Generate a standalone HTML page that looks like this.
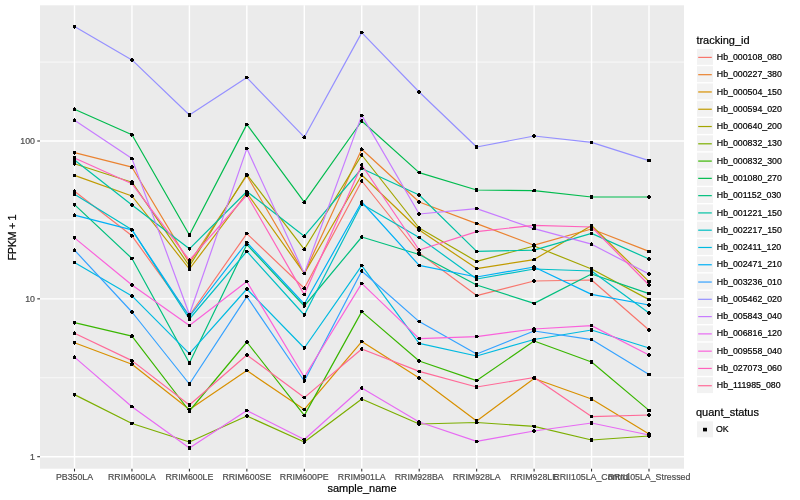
<!DOCTYPE html><html><head><meta charset="utf-8"><style>html,body{margin:0;padding:0;background:#fff;}svg{display:block;will-change:transform;}text{font-family:"Liberation Sans",sans-serif;}.ax{fill:#4D4D4D;stroke:#4D4D4D;stroke-width:0.2px;}.bk{fill:#000;stroke:#000;stroke-width:0.2px;}</style></head><body>
<svg width="800" height="500" viewBox="0 0 800 500">
<rect x="0" y="0" width="800" height="500" fill="#FFFFFF"/>
<rect x="40" y="5.3" width="644" height="463.4" fill="#EBEBEB"/>
<line x1="40" x2="684" y1="377.77" y2="377.77" stroke="#FFFFFF" stroke-width="0.71"/>
<line x1="40" x2="684" y1="219.93" y2="219.93" stroke="#FFFFFF" stroke-width="0.71"/>
<line x1="40" x2="684" y1="62.07" y2="62.07" stroke="#FFFFFF" stroke-width="0.71"/>
<line x1="40" x2="684" y1="456.70" y2="456.70" stroke="#FFFFFF" stroke-width="1.42"/>
<line x1="40" x2="684" y1="298.85" y2="298.85" stroke="#FFFFFF" stroke-width="1.42"/>
<line x1="40" x2="684" y1="141.00" y2="141.00" stroke="#FFFFFF" stroke-width="1.42"/>
<line x1="74.50" x2="74.50" y1="5.3" y2="468.7" stroke="#FFFFFF" stroke-width="1.42"/>
<line x1="131.95" x2="131.95" y1="5.3" y2="468.7" stroke="#FFFFFF" stroke-width="1.42"/>
<line x1="189.40" x2="189.40" y1="5.3" y2="468.7" stroke="#FFFFFF" stroke-width="1.42"/>
<line x1="246.85" x2="246.85" y1="5.3" y2="468.7" stroke="#FFFFFF" stroke-width="1.42"/>
<line x1="304.30" x2="304.30" y1="5.3" y2="468.7" stroke="#FFFFFF" stroke-width="1.42"/>
<line x1="361.75" x2="361.75" y1="5.3" y2="468.7" stroke="#FFFFFF" stroke-width="1.42"/>
<line x1="419.20" x2="419.20" y1="5.3" y2="468.7" stroke="#FFFFFF" stroke-width="1.42"/>
<line x1="476.65" x2="476.65" y1="5.3" y2="468.7" stroke="#FFFFFF" stroke-width="1.42"/>
<line x1="534.10" x2="534.10" y1="5.3" y2="468.7" stroke="#FFFFFF" stroke-width="1.42"/>
<line x1="591.55" x2="591.55" y1="5.3" y2="468.7" stroke="#FFFFFF" stroke-width="1.42"/>
<line x1="649.00" x2="649.00" y1="5.3" y2="468.7" stroke="#FFFFFF" stroke-width="1.42"/>
<polyline points="74.50,191.30 131.95,235.80 189.40,315.50 246.85,233.60 304.30,288.20 361.75,181.00 419.20,253.00 476.65,295.60 534.10,281.00 591.55,280.00 649.00,330.00" fill="none" stroke="#F8766D" stroke-width="1.2" stroke-linejoin="round" stroke-linecap="butt"/>
<polyline points="74.50,152.70 131.95,167.20 189.40,263.00 246.85,175.50 304.30,273.40 361.75,149.20 419.20,202.00 476.65,223.60 534.10,245.20 591.55,229.00 649.00,251.40" fill="none" stroke="#EA8331" stroke-width="1.2" stroke-linejoin="round" stroke-linecap="butt"/>
<polyline points="74.50,342.70 131.95,364.20 189.40,409.50 246.85,370.60 304.30,409.40 361.75,341.60 419.20,378.00 476.65,421.00 534.10,378.50 591.55,399.00 649.00,434.00" fill="none" stroke="#D89000" stroke-width="1.2" stroke-linejoin="round" stroke-linecap="butt"/>
<polyline points="74.50,175.40 131.95,196.00 189.40,269.00 246.85,193.00 304.30,273.40 361.75,175.00 419.20,230.00 476.65,268.60 534.10,259.60 591.55,225.50 649.00,281.60" fill="none" stroke="#C09B00" stroke-width="1.2" stroke-linejoin="round" stroke-linecap="butt"/>
<polyline points="74.50,163.80 131.95,182.20 189.40,266.00 246.85,174.50 304.30,249.30 361.75,155.00 419.20,228.00 476.65,261.40 534.10,246.00 591.55,269.00 649.00,299.60" fill="none" stroke="#A3A500" stroke-width="1.2" stroke-linejoin="round" stroke-linecap="butt"/>
<polyline points="74.50,394.60 131.95,423.50 189.40,442.00 246.85,416.00 304.30,442.00 361.75,399.00 419.20,424.00 476.65,422.50 534.10,426.40 591.55,440.00 649.00,436.00" fill="none" stroke="#7CAE00" stroke-width="1.2" stroke-linejoin="round" stroke-linecap="butt"/>
<polyline points="74.50,322.70 131.95,336.20 189.40,411.00 246.85,342.00 304.30,415.40 361.75,311.60 419.20,361.00 476.65,380.60 534.10,341.00 591.55,362.00 649.00,410.40" fill="none" stroke="#39B600" stroke-width="1.2" stroke-linejoin="round" stroke-linecap="butt"/>
<polyline points="74.50,109.30 131.95,134.80 189.40,235.00 246.85,124.40 304.30,202.20 361.75,121.00 419.20,172.60 476.65,190.00 534.10,190.60 591.55,197.00 649.00,197.00" fill="none" stroke="#00BB4E" stroke-width="1.2" stroke-linejoin="round" stroke-linecap="butt"/>
<polyline points="74.50,204.60 131.95,258.50 189.40,363.00 246.85,244.50 304.30,306.00 361.75,237.00 419.20,254.50 476.65,285.00 534.10,303.40 591.55,274.00 649.00,293.60" fill="none" stroke="#00BF7D" stroke-width="1.2" stroke-linejoin="round" stroke-linecap="butt"/>
<polyline points="74.50,160.00 131.95,205.00 189.40,248.80 246.85,191.50 304.30,236.20 361.75,168.50 419.20,195.00 476.65,251.40 534.10,250.20 591.55,233.40 649.00,259.00" fill="none" stroke="#00C1A3" stroke-width="1.2" stroke-linejoin="round" stroke-linecap="butt"/>
<polyline points="74.50,194.20 131.95,229.80 189.40,319.00 246.85,251.40 304.30,315.00 361.75,204.00 419.20,237.50 476.65,279.00 534.10,269.00 591.55,271.00 649.00,313.00" fill="none" stroke="#00BFC4" stroke-width="1.2" stroke-linejoin="round" stroke-linecap="butt"/>
<polyline points="74.50,262.50 131.95,295.90 189.40,353.60 246.85,289.00 304.30,348.00 361.75,265.60 419.20,343.40 476.65,356.00 534.10,339.50 591.55,330.00 649.00,348.00" fill="none" stroke="#00BAE0" stroke-width="1.2" stroke-linejoin="round" stroke-linecap="butt"/>
<polyline points="74.50,215.10 131.95,229.80 189.40,316.50 246.85,242.50 304.30,304.00 361.75,202.00 419.20,265.40 476.65,277.00 534.10,267.00 591.55,294.40 649.00,305.00" fill="none" stroke="#00B0F6" stroke-width="1.2" stroke-linejoin="round" stroke-linecap="butt"/>
<polyline points="74.50,250.10 131.95,312.00 189.40,384.00 246.85,296.60 304.30,381.00 361.75,271.00 419.20,321.60 476.65,354.00 534.10,331.00 591.55,339.60 649.00,374.60" fill="none" stroke="#35A2FF" stroke-width="1.2" stroke-linejoin="round" stroke-linecap="butt"/>
<polyline points="74.50,26.60 131.95,59.90 189.40,115.00 246.85,77.60 304.30,137.20 361.75,32.60 419.20,92.00 476.65,147.00 534.10,136.00 591.55,142.40 649.00,160.60" fill="none" stroke="#9590FF" stroke-width="1.2" stroke-linejoin="round" stroke-linecap="butt"/>
<polyline points="74.50,120.20 131.95,158.60 189.40,314.50 246.85,148.60 304.30,273.40 361.75,115.40 419.20,214.00 476.65,208.60 534.10,228.60 591.55,244.20 649.00,274.00" fill="none" stroke="#C77CFF" stroke-width="1.2" stroke-linejoin="round" stroke-linecap="butt"/>
<polyline points="74.50,357.10 131.95,406.70 189.40,448.00 246.85,410.60 304.30,439.50 361.75,388.00 419.20,422.00 476.65,441.40 534.10,431.00 591.55,423.00 649.00,435.00" fill="none" stroke="#E76BF3" stroke-width="1.2" stroke-linejoin="round" stroke-linecap="butt"/>
<polyline points="74.50,237.90 131.95,285.00 189.40,325.60 246.85,281.60 304.30,377.00 361.75,283.40 419.20,338.60 476.65,336.60 534.10,329.00 591.55,325.60 649.00,355.00" fill="none" stroke="#FA62DB" stroke-width="1.2" stroke-linejoin="round" stroke-linecap="butt"/>
<polyline points="74.50,158.00 131.95,183.70 189.40,260.20 246.85,195.00 304.30,294.60 361.75,165.00 419.20,250.00 476.65,231.60 534.10,225.40 591.55,227.00 649.00,285.00" fill="none" stroke="#FF62BC" stroke-width="1.2" stroke-linejoin="round" stroke-linecap="butt"/>
<polyline points="74.50,333.20 131.95,360.60 189.40,405.00 246.85,355.00 304.30,397.60 361.75,349.00 419.20,371.40 476.65,387.00 534.10,377.50 591.55,416.60 649.00,415.00" fill="none" stroke="#FF6A98" stroke-width="1.2" stroke-linejoin="round" stroke-linecap="butt"/>
<circle cx="74.50" cy="191.30" r="1.9" fill="#000" shape-rendering="crispEdges"/>
<circle cx="131.95" cy="235.80" r="1.9" fill="#000" shape-rendering="crispEdges"/>
<circle cx="189.40" cy="315.50" r="1.9" fill="#000" shape-rendering="crispEdges"/>
<circle cx="246.85" cy="233.60" r="1.9" fill="#000" shape-rendering="crispEdges"/>
<circle cx="304.30" cy="288.20" r="1.9" fill="#000" shape-rendering="crispEdges"/>
<circle cx="361.75" cy="181.00" r="1.9" fill="#000" shape-rendering="crispEdges"/>
<circle cx="419.20" cy="253.00" r="1.9" fill="#000" shape-rendering="crispEdges"/>
<circle cx="476.65" cy="295.60" r="1.9" fill="#000" shape-rendering="crispEdges"/>
<circle cx="534.10" cy="281.00" r="1.9" fill="#000" shape-rendering="crispEdges"/>
<circle cx="591.55" cy="280.00" r="1.9" fill="#000" shape-rendering="crispEdges"/>
<circle cx="649.00" cy="330.00" r="1.9" fill="#000" shape-rendering="crispEdges"/>
<circle cx="74.50" cy="152.70" r="1.9" fill="#000" shape-rendering="crispEdges"/>
<circle cx="131.95" cy="167.20" r="1.9" fill="#000" shape-rendering="crispEdges"/>
<circle cx="189.40" cy="263.00" r="1.9" fill="#000" shape-rendering="crispEdges"/>
<circle cx="246.85" cy="175.50" r="1.9" fill="#000" shape-rendering="crispEdges"/>
<circle cx="304.30" cy="273.40" r="1.9" fill="#000" shape-rendering="crispEdges"/>
<circle cx="361.75" cy="149.20" r="1.9" fill="#000" shape-rendering="crispEdges"/>
<circle cx="419.20" cy="202.00" r="1.9" fill="#000" shape-rendering="crispEdges"/>
<circle cx="476.65" cy="223.60" r="1.9" fill="#000" shape-rendering="crispEdges"/>
<circle cx="534.10" cy="245.20" r="1.9" fill="#000" shape-rendering="crispEdges"/>
<circle cx="591.55" cy="229.00" r="1.9" fill="#000" shape-rendering="crispEdges"/>
<circle cx="649.00" cy="251.40" r="1.9" fill="#000" shape-rendering="crispEdges"/>
<circle cx="74.50" cy="342.70" r="1.9" fill="#000" shape-rendering="crispEdges"/>
<circle cx="131.95" cy="364.20" r="1.9" fill="#000" shape-rendering="crispEdges"/>
<circle cx="189.40" cy="409.50" r="1.9" fill="#000" shape-rendering="crispEdges"/>
<circle cx="246.85" cy="370.60" r="1.9" fill="#000" shape-rendering="crispEdges"/>
<circle cx="304.30" cy="409.40" r="1.9" fill="#000" shape-rendering="crispEdges"/>
<circle cx="361.75" cy="341.60" r="1.9" fill="#000" shape-rendering="crispEdges"/>
<circle cx="419.20" cy="378.00" r="1.9" fill="#000" shape-rendering="crispEdges"/>
<circle cx="476.65" cy="421.00" r="1.9" fill="#000" shape-rendering="crispEdges"/>
<circle cx="534.10" cy="378.50" r="1.9" fill="#000" shape-rendering="crispEdges"/>
<circle cx="591.55" cy="399.00" r="1.9" fill="#000" shape-rendering="crispEdges"/>
<circle cx="649.00" cy="434.00" r="1.9" fill="#000" shape-rendering="crispEdges"/>
<circle cx="74.50" cy="175.40" r="1.9" fill="#000" shape-rendering="crispEdges"/>
<circle cx="131.95" cy="196.00" r="1.9" fill="#000" shape-rendering="crispEdges"/>
<circle cx="189.40" cy="269.00" r="1.9" fill="#000" shape-rendering="crispEdges"/>
<circle cx="246.85" cy="193.00" r="1.9" fill="#000" shape-rendering="crispEdges"/>
<circle cx="304.30" cy="273.40" r="1.9" fill="#000" shape-rendering="crispEdges"/>
<circle cx="361.75" cy="175.00" r="1.9" fill="#000" shape-rendering="crispEdges"/>
<circle cx="419.20" cy="230.00" r="1.9" fill="#000" shape-rendering="crispEdges"/>
<circle cx="476.65" cy="268.60" r="1.9" fill="#000" shape-rendering="crispEdges"/>
<circle cx="534.10" cy="259.60" r="1.9" fill="#000" shape-rendering="crispEdges"/>
<circle cx="591.55" cy="225.50" r="1.9" fill="#000" shape-rendering="crispEdges"/>
<circle cx="649.00" cy="281.60" r="1.9" fill="#000" shape-rendering="crispEdges"/>
<circle cx="74.50" cy="163.80" r="1.9" fill="#000" shape-rendering="crispEdges"/>
<circle cx="131.95" cy="182.20" r="1.9" fill="#000" shape-rendering="crispEdges"/>
<circle cx="189.40" cy="266.00" r="1.9" fill="#000" shape-rendering="crispEdges"/>
<circle cx="246.85" cy="174.50" r="1.9" fill="#000" shape-rendering="crispEdges"/>
<circle cx="304.30" cy="249.30" r="1.9" fill="#000" shape-rendering="crispEdges"/>
<circle cx="361.75" cy="155.00" r="1.9" fill="#000" shape-rendering="crispEdges"/>
<circle cx="419.20" cy="228.00" r="1.9" fill="#000" shape-rendering="crispEdges"/>
<circle cx="476.65" cy="261.40" r="1.9" fill="#000" shape-rendering="crispEdges"/>
<circle cx="534.10" cy="246.00" r="1.9" fill="#000" shape-rendering="crispEdges"/>
<circle cx="591.55" cy="269.00" r="1.9" fill="#000" shape-rendering="crispEdges"/>
<circle cx="649.00" cy="299.60" r="1.9" fill="#000" shape-rendering="crispEdges"/>
<circle cx="74.50" cy="394.60" r="1.9" fill="#000" shape-rendering="crispEdges"/>
<circle cx="131.95" cy="423.50" r="1.9" fill="#000" shape-rendering="crispEdges"/>
<circle cx="189.40" cy="442.00" r="1.9" fill="#000" shape-rendering="crispEdges"/>
<circle cx="246.85" cy="416.00" r="1.9" fill="#000" shape-rendering="crispEdges"/>
<circle cx="304.30" cy="442.00" r="1.9" fill="#000" shape-rendering="crispEdges"/>
<circle cx="361.75" cy="399.00" r="1.9" fill="#000" shape-rendering="crispEdges"/>
<circle cx="419.20" cy="424.00" r="1.9" fill="#000" shape-rendering="crispEdges"/>
<circle cx="476.65" cy="422.50" r="1.9" fill="#000" shape-rendering="crispEdges"/>
<circle cx="534.10" cy="426.40" r="1.9" fill="#000" shape-rendering="crispEdges"/>
<circle cx="591.55" cy="440.00" r="1.9" fill="#000" shape-rendering="crispEdges"/>
<circle cx="649.00" cy="436.00" r="1.9" fill="#000" shape-rendering="crispEdges"/>
<circle cx="74.50" cy="322.70" r="1.9" fill="#000" shape-rendering="crispEdges"/>
<circle cx="131.95" cy="336.20" r="1.9" fill="#000" shape-rendering="crispEdges"/>
<circle cx="189.40" cy="411.00" r="1.9" fill="#000" shape-rendering="crispEdges"/>
<circle cx="246.85" cy="342.00" r="1.9" fill="#000" shape-rendering="crispEdges"/>
<circle cx="304.30" cy="415.40" r="1.9" fill="#000" shape-rendering="crispEdges"/>
<circle cx="361.75" cy="311.60" r="1.9" fill="#000" shape-rendering="crispEdges"/>
<circle cx="419.20" cy="361.00" r="1.9" fill="#000" shape-rendering="crispEdges"/>
<circle cx="476.65" cy="380.60" r="1.9" fill="#000" shape-rendering="crispEdges"/>
<circle cx="534.10" cy="341.00" r="1.9" fill="#000" shape-rendering="crispEdges"/>
<circle cx="591.55" cy="362.00" r="1.9" fill="#000" shape-rendering="crispEdges"/>
<circle cx="649.00" cy="410.40" r="1.9" fill="#000" shape-rendering="crispEdges"/>
<circle cx="74.50" cy="109.30" r="1.9" fill="#000" shape-rendering="crispEdges"/>
<circle cx="131.95" cy="134.80" r="1.9" fill="#000" shape-rendering="crispEdges"/>
<circle cx="189.40" cy="235.00" r="1.9" fill="#000" shape-rendering="crispEdges"/>
<circle cx="246.85" cy="124.40" r="1.9" fill="#000" shape-rendering="crispEdges"/>
<circle cx="304.30" cy="202.20" r="1.9" fill="#000" shape-rendering="crispEdges"/>
<circle cx="361.75" cy="121.00" r="1.9" fill="#000" shape-rendering="crispEdges"/>
<circle cx="419.20" cy="172.60" r="1.9" fill="#000" shape-rendering="crispEdges"/>
<circle cx="476.65" cy="190.00" r="1.9" fill="#000" shape-rendering="crispEdges"/>
<circle cx="534.10" cy="190.60" r="1.9" fill="#000" shape-rendering="crispEdges"/>
<circle cx="591.55" cy="197.00" r="1.9" fill="#000" shape-rendering="crispEdges"/>
<circle cx="649.00" cy="197.00" r="1.9" fill="#000" shape-rendering="crispEdges"/>
<circle cx="74.50" cy="204.60" r="1.9" fill="#000" shape-rendering="crispEdges"/>
<circle cx="131.95" cy="258.50" r="1.9" fill="#000" shape-rendering="crispEdges"/>
<circle cx="189.40" cy="363.00" r="1.9" fill="#000" shape-rendering="crispEdges"/>
<circle cx="246.85" cy="244.50" r="1.9" fill="#000" shape-rendering="crispEdges"/>
<circle cx="304.30" cy="306.00" r="1.9" fill="#000" shape-rendering="crispEdges"/>
<circle cx="361.75" cy="237.00" r="1.9" fill="#000" shape-rendering="crispEdges"/>
<circle cx="419.20" cy="254.50" r="1.9" fill="#000" shape-rendering="crispEdges"/>
<circle cx="476.65" cy="285.00" r="1.9" fill="#000" shape-rendering="crispEdges"/>
<circle cx="534.10" cy="303.40" r="1.9" fill="#000" shape-rendering="crispEdges"/>
<circle cx="591.55" cy="274.00" r="1.9" fill="#000" shape-rendering="crispEdges"/>
<circle cx="649.00" cy="293.60" r="1.9" fill="#000" shape-rendering="crispEdges"/>
<circle cx="74.50" cy="160.00" r="1.9" fill="#000" shape-rendering="crispEdges"/>
<circle cx="131.95" cy="205.00" r="1.9" fill="#000" shape-rendering="crispEdges"/>
<circle cx="189.40" cy="248.80" r="1.9" fill="#000" shape-rendering="crispEdges"/>
<circle cx="246.85" cy="191.50" r="1.9" fill="#000" shape-rendering="crispEdges"/>
<circle cx="304.30" cy="236.20" r="1.9" fill="#000" shape-rendering="crispEdges"/>
<circle cx="361.75" cy="168.50" r="1.9" fill="#000" shape-rendering="crispEdges"/>
<circle cx="419.20" cy="195.00" r="1.9" fill="#000" shape-rendering="crispEdges"/>
<circle cx="476.65" cy="251.40" r="1.9" fill="#000" shape-rendering="crispEdges"/>
<circle cx="534.10" cy="250.20" r="1.9" fill="#000" shape-rendering="crispEdges"/>
<circle cx="591.55" cy="233.40" r="1.9" fill="#000" shape-rendering="crispEdges"/>
<circle cx="649.00" cy="259.00" r="1.9" fill="#000" shape-rendering="crispEdges"/>
<circle cx="74.50" cy="194.20" r="1.9" fill="#000" shape-rendering="crispEdges"/>
<circle cx="131.95" cy="229.80" r="1.9" fill="#000" shape-rendering="crispEdges"/>
<circle cx="189.40" cy="319.00" r="1.9" fill="#000" shape-rendering="crispEdges"/>
<circle cx="246.85" cy="251.40" r="1.9" fill="#000" shape-rendering="crispEdges"/>
<circle cx="304.30" cy="315.00" r="1.9" fill="#000" shape-rendering="crispEdges"/>
<circle cx="361.75" cy="204.00" r="1.9" fill="#000" shape-rendering="crispEdges"/>
<circle cx="419.20" cy="237.50" r="1.9" fill="#000" shape-rendering="crispEdges"/>
<circle cx="476.65" cy="279.00" r="1.9" fill="#000" shape-rendering="crispEdges"/>
<circle cx="534.10" cy="269.00" r="1.9" fill="#000" shape-rendering="crispEdges"/>
<circle cx="591.55" cy="271.00" r="1.9" fill="#000" shape-rendering="crispEdges"/>
<circle cx="649.00" cy="313.00" r="1.9" fill="#000" shape-rendering="crispEdges"/>
<circle cx="74.50" cy="262.50" r="1.9" fill="#000" shape-rendering="crispEdges"/>
<circle cx="131.95" cy="295.90" r="1.9" fill="#000" shape-rendering="crispEdges"/>
<circle cx="189.40" cy="353.60" r="1.9" fill="#000" shape-rendering="crispEdges"/>
<circle cx="246.85" cy="289.00" r="1.9" fill="#000" shape-rendering="crispEdges"/>
<circle cx="304.30" cy="348.00" r="1.9" fill="#000" shape-rendering="crispEdges"/>
<circle cx="361.75" cy="265.60" r="1.9" fill="#000" shape-rendering="crispEdges"/>
<circle cx="419.20" cy="343.40" r="1.9" fill="#000" shape-rendering="crispEdges"/>
<circle cx="476.65" cy="356.00" r="1.9" fill="#000" shape-rendering="crispEdges"/>
<circle cx="534.10" cy="339.50" r="1.9" fill="#000" shape-rendering="crispEdges"/>
<circle cx="591.55" cy="330.00" r="1.9" fill="#000" shape-rendering="crispEdges"/>
<circle cx="649.00" cy="348.00" r="1.9" fill="#000" shape-rendering="crispEdges"/>
<circle cx="74.50" cy="215.10" r="1.9" fill="#000" shape-rendering="crispEdges"/>
<circle cx="131.95" cy="229.80" r="1.9" fill="#000" shape-rendering="crispEdges"/>
<circle cx="189.40" cy="316.50" r="1.9" fill="#000" shape-rendering="crispEdges"/>
<circle cx="246.85" cy="242.50" r="1.9" fill="#000" shape-rendering="crispEdges"/>
<circle cx="304.30" cy="304.00" r="1.9" fill="#000" shape-rendering="crispEdges"/>
<circle cx="361.75" cy="202.00" r="1.9" fill="#000" shape-rendering="crispEdges"/>
<circle cx="419.20" cy="265.40" r="1.9" fill="#000" shape-rendering="crispEdges"/>
<circle cx="476.65" cy="277.00" r="1.9" fill="#000" shape-rendering="crispEdges"/>
<circle cx="534.10" cy="267.00" r="1.9" fill="#000" shape-rendering="crispEdges"/>
<circle cx="591.55" cy="294.40" r="1.9" fill="#000" shape-rendering="crispEdges"/>
<circle cx="649.00" cy="305.00" r="1.9" fill="#000" shape-rendering="crispEdges"/>
<circle cx="74.50" cy="250.10" r="1.9" fill="#000" shape-rendering="crispEdges"/>
<circle cx="131.95" cy="312.00" r="1.9" fill="#000" shape-rendering="crispEdges"/>
<circle cx="189.40" cy="384.00" r="1.9" fill="#000" shape-rendering="crispEdges"/>
<circle cx="246.85" cy="296.60" r="1.9" fill="#000" shape-rendering="crispEdges"/>
<circle cx="304.30" cy="381.00" r="1.9" fill="#000" shape-rendering="crispEdges"/>
<circle cx="361.75" cy="271.00" r="1.9" fill="#000" shape-rendering="crispEdges"/>
<circle cx="419.20" cy="321.60" r="1.9" fill="#000" shape-rendering="crispEdges"/>
<circle cx="476.65" cy="354.00" r="1.9" fill="#000" shape-rendering="crispEdges"/>
<circle cx="534.10" cy="331.00" r="1.9" fill="#000" shape-rendering="crispEdges"/>
<circle cx="591.55" cy="339.60" r="1.9" fill="#000" shape-rendering="crispEdges"/>
<circle cx="649.00" cy="374.60" r="1.9" fill="#000" shape-rendering="crispEdges"/>
<circle cx="74.50" cy="26.60" r="1.9" fill="#000" shape-rendering="crispEdges"/>
<circle cx="131.95" cy="59.90" r="1.9" fill="#000" shape-rendering="crispEdges"/>
<circle cx="189.40" cy="115.00" r="1.9" fill="#000" shape-rendering="crispEdges"/>
<circle cx="246.85" cy="77.60" r="1.9" fill="#000" shape-rendering="crispEdges"/>
<circle cx="304.30" cy="137.20" r="1.9" fill="#000" shape-rendering="crispEdges"/>
<circle cx="361.75" cy="32.60" r="1.9" fill="#000" shape-rendering="crispEdges"/>
<circle cx="419.20" cy="92.00" r="1.9" fill="#000" shape-rendering="crispEdges"/>
<circle cx="476.65" cy="147.00" r="1.9" fill="#000" shape-rendering="crispEdges"/>
<circle cx="534.10" cy="136.00" r="1.9" fill="#000" shape-rendering="crispEdges"/>
<circle cx="591.55" cy="142.40" r="1.9" fill="#000" shape-rendering="crispEdges"/>
<circle cx="649.00" cy="160.60" r="1.9" fill="#000" shape-rendering="crispEdges"/>
<circle cx="74.50" cy="120.20" r="1.9" fill="#000" shape-rendering="crispEdges"/>
<circle cx="131.95" cy="158.60" r="1.9" fill="#000" shape-rendering="crispEdges"/>
<circle cx="189.40" cy="314.50" r="1.9" fill="#000" shape-rendering="crispEdges"/>
<circle cx="246.85" cy="148.60" r="1.9" fill="#000" shape-rendering="crispEdges"/>
<circle cx="304.30" cy="273.40" r="1.9" fill="#000" shape-rendering="crispEdges"/>
<circle cx="361.75" cy="115.40" r="1.9" fill="#000" shape-rendering="crispEdges"/>
<circle cx="419.20" cy="214.00" r="1.9" fill="#000" shape-rendering="crispEdges"/>
<circle cx="476.65" cy="208.60" r="1.9" fill="#000" shape-rendering="crispEdges"/>
<circle cx="534.10" cy="228.60" r="1.9" fill="#000" shape-rendering="crispEdges"/>
<circle cx="591.55" cy="244.20" r="1.9" fill="#000" shape-rendering="crispEdges"/>
<circle cx="649.00" cy="274.00" r="1.9" fill="#000" shape-rendering="crispEdges"/>
<circle cx="74.50" cy="357.10" r="1.9" fill="#000" shape-rendering="crispEdges"/>
<circle cx="131.95" cy="406.70" r="1.9" fill="#000" shape-rendering="crispEdges"/>
<circle cx="189.40" cy="448.00" r="1.9" fill="#000" shape-rendering="crispEdges"/>
<circle cx="246.85" cy="410.60" r="1.9" fill="#000" shape-rendering="crispEdges"/>
<circle cx="304.30" cy="439.50" r="1.9" fill="#000" shape-rendering="crispEdges"/>
<circle cx="361.75" cy="388.00" r="1.9" fill="#000" shape-rendering="crispEdges"/>
<circle cx="419.20" cy="422.00" r="1.9" fill="#000" shape-rendering="crispEdges"/>
<circle cx="476.65" cy="441.40" r="1.9" fill="#000" shape-rendering="crispEdges"/>
<circle cx="534.10" cy="431.00" r="1.9" fill="#000" shape-rendering="crispEdges"/>
<circle cx="591.55" cy="423.00" r="1.9" fill="#000" shape-rendering="crispEdges"/>
<circle cx="649.00" cy="435.00" r="1.9" fill="#000" shape-rendering="crispEdges"/>
<circle cx="74.50" cy="237.90" r="1.9" fill="#000" shape-rendering="crispEdges"/>
<circle cx="131.95" cy="285.00" r="1.9" fill="#000" shape-rendering="crispEdges"/>
<circle cx="189.40" cy="325.60" r="1.9" fill="#000" shape-rendering="crispEdges"/>
<circle cx="246.85" cy="281.60" r="1.9" fill="#000" shape-rendering="crispEdges"/>
<circle cx="304.30" cy="377.00" r="1.9" fill="#000" shape-rendering="crispEdges"/>
<circle cx="361.75" cy="283.40" r="1.9" fill="#000" shape-rendering="crispEdges"/>
<circle cx="419.20" cy="338.60" r="1.9" fill="#000" shape-rendering="crispEdges"/>
<circle cx="476.65" cy="336.60" r="1.9" fill="#000" shape-rendering="crispEdges"/>
<circle cx="534.10" cy="329.00" r="1.9" fill="#000" shape-rendering="crispEdges"/>
<circle cx="591.55" cy="325.60" r="1.9" fill="#000" shape-rendering="crispEdges"/>
<circle cx="649.00" cy="355.00" r="1.9" fill="#000" shape-rendering="crispEdges"/>
<circle cx="74.50" cy="158.00" r="1.9" fill="#000" shape-rendering="crispEdges"/>
<circle cx="131.95" cy="183.70" r="1.9" fill="#000" shape-rendering="crispEdges"/>
<circle cx="189.40" cy="260.20" r="1.9" fill="#000" shape-rendering="crispEdges"/>
<circle cx="246.85" cy="195.00" r="1.9" fill="#000" shape-rendering="crispEdges"/>
<circle cx="304.30" cy="294.60" r="1.9" fill="#000" shape-rendering="crispEdges"/>
<circle cx="361.75" cy="165.00" r="1.9" fill="#000" shape-rendering="crispEdges"/>
<circle cx="419.20" cy="250.00" r="1.9" fill="#000" shape-rendering="crispEdges"/>
<circle cx="476.65" cy="231.60" r="1.9" fill="#000" shape-rendering="crispEdges"/>
<circle cx="534.10" cy="225.40" r="1.9" fill="#000" shape-rendering="crispEdges"/>
<circle cx="591.55" cy="227.00" r="1.9" fill="#000" shape-rendering="crispEdges"/>
<circle cx="649.00" cy="285.00" r="1.9" fill="#000" shape-rendering="crispEdges"/>
<circle cx="74.50" cy="333.20" r="1.9" fill="#000" shape-rendering="crispEdges"/>
<circle cx="131.95" cy="360.60" r="1.9" fill="#000" shape-rendering="crispEdges"/>
<circle cx="189.40" cy="405.00" r="1.9" fill="#000" shape-rendering="crispEdges"/>
<circle cx="246.85" cy="355.00" r="1.9" fill="#000" shape-rendering="crispEdges"/>
<circle cx="304.30" cy="397.60" r="1.9" fill="#000" shape-rendering="crispEdges"/>
<circle cx="361.75" cy="349.00" r="1.9" fill="#000" shape-rendering="crispEdges"/>
<circle cx="419.20" cy="371.40" r="1.9" fill="#000" shape-rendering="crispEdges"/>
<circle cx="476.65" cy="387.00" r="1.9" fill="#000" shape-rendering="crispEdges"/>
<circle cx="534.10" cy="377.50" r="1.9" fill="#000" shape-rendering="crispEdges"/>
<circle cx="591.55" cy="416.60" r="1.9" fill="#000" shape-rendering="crispEdges"/>
<circle cx="649.00" cy="415.00" r="1.9" fill="#000" shape-rendering="crispEdges"/>
<line x1="37.25" x2="40" y1="456.70" y2="456.70" stroke="#333333" stroke-width="1.07"/>
<text x="35" y="459.85" font-size="8.8" class="ax" text-anchor="end">1</text>
<line x1="37.25" x2="40" y1="298.85" y2="298.85" stroke="#333333" stroke-width="1.07"/>
<text x="35" y="302.00" font-size="8.8" class="ax" text-anchor="end">10</text>
<line x1="37.25" x2="40" y1="141.00" y2="141.00" stroke="#333333" stroke-width="1.07"/>
<text x="35" y="144.15" font-size="8.8" class="ax" text-anchor="end">100</text>
<line x1="74.50" x2="74.50" y1="468.7" y2="471.45" stroke="#333333" stroke-width="1.07"/>
<text x="74.50" y="480.3" font-size="8.8" class="ax" text-anchor="middle">PB350LA</text>
<line x1="131.95" x2="131.95" y1="468.7" y2="471.45" stroke="#333333" stroke-width="1.07"/>
<text x="131.95" y="480.3" font-size="8.8" class="ax" text-anchor="middle">RRIM600LA</text>
<line x1="189.40" x2="189.40" y1="468.7" y2="471.45" stroke="#333333" stroke-width="1.07"/>
<text x="189.40" y="480.3" font-size="8.8" class="ax" text-anchor="middle">RRIM600LE</text>
<line x1="246.85" x2="246.85" y1="468.7" y2="471.45" stroke="#333333" stroke-width="1.07"/>
<text x="246.85" y="480.3" font-size="8.8" class="ax" text-anchor="middle">RRIM600SE</text>
<line x1="304.30" x2="304.30" y1="468.7" y2="471.45" stroke="#333333" stroke-width="1.07"/>
<text x="304.30" y="480.3" font-size="8.8" class="ax" text-anchor="middle">RRIM600PE</text>
<line x1="361.75" x2="361.75" y1="468.7" y2="471.45" stroke="#333333" stroke-width="1.07"/>
<text x="361.75" y="480.3" font-size="8.8" class="ax" text-anchor="middle">RRIM901LA</text>
<line x1="419.20" x2="419.20" y1="468.7" y2="471.45" stroke="#333333" stroke-width="1.07"/>
<text x="419.20" y="480.3" font-size="8.8" class="ax" text-anchor="middle">RRIM928BA</text>
<line x1="476.65" x2="476.65" y1="468.7" y2="471.45" stroke="#333333" stroke-width="1.07"/>
<text x="476.65" y="480.3" font-size="8.8" class="ax" text-anchor="middle">RRIM928LA</text>
<line x1="534.10" x2="534.10" y1="468.7" y2="471.45" stroke="#333333" stroke-width="1.07"/>
<text x="534.10" y="480.3" font-size="8.8" class="ax" text-anchor="middle">RRIM928LE</text>
<line x1="591.55" x2="591.55" y1="468.7" y2="471.45" stroke="#333333" stroke-width="1.07"/>
<text x="591.55" y="480.3" font-size="8.8" class="ax" text-anchor="middle">RRII105LA_Control</text>
<line x1="649.00" x2="649.00" y1="468.7" y2="471.45" stroke="#333333" stroke-width="1.07"/>
<text x="649.00" y="480.3" font-size="8.8" class="ax" text-anchor="middle">RRII105LA_Stressed</text>
<text x="362.00" y="491.8" font-size="11" class="bk" text-anchor="middle">sample_name</text>
<text transform="translate(16,237.4) rotate(-90)" x="0" y="0" font-size="11" class="bk" text-anchor="middle" textLength="46.2" lengthAdjust="spacing">FPKM + 1</text>
<text x="696.4" y="44" font-size="11" class="bk">tracking_id</text>
<rect x="697" y="48.90" width="16" height="15.9" fill="#F2F2F2"/>
<line x1="698.2" x2="711.8" y1="57.40" y2="57.40" stroke="#F8766D" stroke-width="1.2"/>
<text x="716.8" y="60.00" font-size="8.8" class="bk">Hb_000108_080</text>
<rect x="697" y="66.18" width="16" height="15.9" fill="#F2F2F2"/>
<line x1="698.2" x2="711.8" y1="74.68" y2="74.68" stroke="#EA8331" stroke-width="1.2"/>
<text x="716.8" y="77.28" font-size="8.8" class="bk">Hb_000227_380</text>
<rect x="697" y="83.46" width="16" height="15.9" fill="#F2F2F2"/>
<line x1="698.2" x2="711.8" y1="91.96" y2="91.96" stroke="#D89000" stroke-width="1.2"/>
<text x="716.8" y="94.56" font-size="8.8" class="bk">Hb_000504_150</text>
<rect x="697" y="100.74" width="16" height="15.9" fill="#F2F2F2"/>
<line x1="698.2" x2="711.8" y1="109.24" y2="109.24" stroke="#C09B00" stroke-width="1.2"/>
<text x="716.8" y="111.84" font-size="8.8" class="bk">Hb_000594_020</text>
<rect x="697" y="118.02" width="16" height="15.9" fill="#F2F2F2"/>
<line x1="698.2" x2="711.8" y1="126.52" y2="126.52" stroke="#A3A500" stroke-width="1.2"/>
<text x="716.8" y="129.12" font-size="8.8" class="bk">Hb_000640_200</text>
<rect x="697" y="135.30" width="16" height="15.9" fill="#F2F2F2"/>
<line x1="698.2" x2="711.8" y1="143.80" y2="143.80" stroke="#7CAE00" stroke-width="1.2"/>
<text x="716.8" y="146.40" font-size="8.8" class="bk">Hb_000832_130</text>
<rect x="697" y="152.58" width="16" height="15.9" fill="#F2F2F2"/>
<line x1="698.2" x2="711.8" y1="161.08" y2="161.08" stroke="#39B600" stroke-width="1.2"/>
<text x="716.8" y="163.68" font-size="8.8" class="bk">Hb_000832_300</text>
<rect x="697" y="169.86" width="16" height="15.9" fill="#F2F2F2"/>
<line x1="698.2" x2="711.8" y1="178.36" y2="178.36" stroke="#00BB4E" stroke-width="1.2"/>
<text x="716.8" y="180.96" font-size="8.8" class="bk">Hb_001080_270</text>
<rect x="697" y="187.14" width="16" height="15.9" fill="#F2F2F2"/>
<line x1="698.2" x2="711.8" y1="195.64" y2="195.64" stroke="#00BF7D" stroke-width="1.2"/>
<text x="716.8" y="198.24" font-size="8.8" class="bk">Hb_001152_030</text>
<rect x="697" y="204.42" width="16" height="15.9" fill="#F2F2F2"/>
<line x1="698.2" x2="711.8" y1="212.92" y2="212.92" stroke="#00C1A3" stroke-width="1.2"/>
<text x="716.8" y="215.52" font-size="8.8" class="bk">Hb_001221_150</text>
<rect x="697" y="221.70" width="16" height="15.9" fill="#F2F2F2"/>
<line x1="698.2" x2="711.8" y1="230.20" y2="230.20" stroke="#00BFC4" stroke-width="1.2"/>
<text x="716.8" y="232.80" font-size="8.8" class="bk">Hb_002217_150</text>
<rect x="697" y="238.98" width="16" height="15.9" fill="#F2F2F2"/>
<line x1="698.2" x2="711.8" y1="247.48" y2="247.48" stroke="#00BAE0" stroke-width="1.2"/>
<text x="716.8" y="250.08" font-size="8.8" class="bk">Hb_002411_120</text>
<rect x="697" y="256.26" width="16" height="15.9" fill="#F2F2F2"/>
<line x1="698.2" x2="711.8" y1="264.76" y2="264.76" stroke="#00B0F6" stroke-width="1.2"/>
<text x="716.8" y="267.36" font-size="8.8" class="bk">Hb_002471_210</text>
<rect x="697" y="273.54" width="16" height="15.9" fill="#F2F2F2"/>
<line x1="698.2" x2="711.8" y1="282.04" y2="282.04" stroke="#35A2FF" stroke-width="1.2"/>
<text x="716.8" y="284.64" font-size="8.8" class="bk">Hb_003236_010</text>
<rect x="697" y="290.82" width="16" height="15.9" fill="#F2F2F2"/>
<line x1="698.2" x2="711.8" y1="299.32" y2="299.32" stroke="#9590FF" stroke-width="1.2"/>
<text x="716.8" y="301.92" font-size="8.8" class="bk">Hb_005462_020</text>
<rect x="697" y="308.10" width="16" height="15.9" fill="#F2F2F2"/>
<line x1="698.2" x2="711.8" y1="316.60" y2="316.60" stroke="#C77CFF" stroke-width="1.2"/>
<text x="716.8" y="319.20" font-size="8.8" class="bk">Hb_005843_040</text>
<rect x="697" y="325.38" width="16" height="15.9" fill="#F2F2F2"/>
<line x1="698.2" x2="711.8" y1="333.88" y2="333.88" stroke="#E76BF3" stroke-width="1.2"/>
<text x="716.8" y="336.48" font-size="8.8" class="bk">Hb_006816_120</text>
<rect x="697" y="342.66" width="16" height="15.9" fill="#F2F2F2"/>
<line x1="698.2" x2="711.8" y1="351.16" y2="351.16" stroke="#FA62DB" stroke-width="1.2"/>
<text x="716.8" y="353.76" font-size="8.8" class="bk">Hb_009558_040</text>
<rect x="697" y="359.94" width="16" height="15.9" fill="#F2F2F2"/>
<line x1="698.2" x2="711.8" y1="368.44" y2="368.44" stroke="#FF62BC" stroke-width="1.2"/>
<text x="716.8" y="371.04" font-size="8.8" class="bk">Hb_027073_060</text>
<rect x="697" y="377.22" width="16" height="15.9" fill="#F2F2F2"/>
<line x1="698.2" x2="711.8" y1="385.72" y2="385.72" stroke="#FF6A98" stroke-width="1.2"/>
<text x="716.8" y="388.32" font-size="8.8" class="bk">Hb_111985_080</text>
<text x="696" y="415.6" font-size="11" class="bk">quant_status</text>
<rect x="697" y="421.3" width="16" height="16" fill="#F2F2F2"/>
<rect x="703" y="427.8" width="4" height="3.6" fill="#000"/>
<text x="716" y="432.2" font-size="8.8" class="bk">OK</text>
</svg></body></html>
